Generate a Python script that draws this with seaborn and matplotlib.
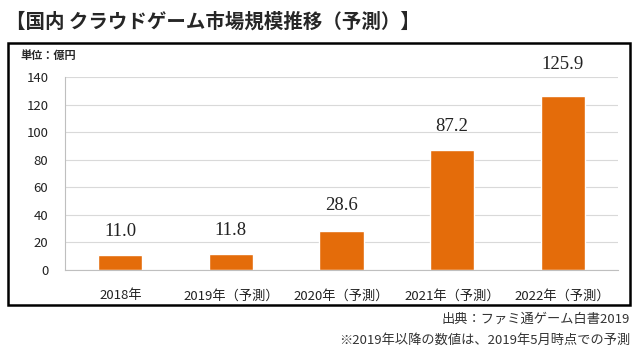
import matplotlib
matplotlib.use("Agg")
import matplotlib.pyplot as plt
import seaborn as sns
import numpy as np
import pandas as pd
from matplotlib.patches import Rectangle

sns.set_style("white")
plt.rcParams['font.family'] = ['Noto Sans CJK JP', 'DejaVu Sans']

# data
years = ['2018年', '2019年（予測）', '2020年（予測）', '2021年（予測）', '2022年（予測）']
market = [11.0, 11.8, 28.6, 87.2, 125.9]
label_offset = [16.5, 16.5, 18, 16.5, 23]  # points above bar top

df = pd.DataFrame({'year': years, 'value': market})

fig = plt.figure(figsize=(6.4, 3.59), dpi=100)
ax = fig.add_axes([0.1016, 0.2479, 0.8640, 0.5376])

sns.barplot(data=df, x='year', y='value', color='#E46C0A', saturation=1,
            width=0.4, ax=ax)

ax.set_ylim(0, 140)
ax.set_yticks(np.arange(0, 141, 20))
ax.set_xlim(-0.5, 4.5)
ax.set_xlabel('')
ax.set_ylabel('')
ax.yaxis.grid(True, color='#d9d9d9', linewidth=0.8)
ax.set_axisbelow(True)

for s in ['top', 'right']:
    ax.spines[s].set_visible(False)
for s in ['left', 'bottom']:
    ax.spines[s].set_color('#bfbfbf')
    ax.spines[s].set_linewidth(0.8)

ax.tick_params(axis='y', length=4, color='#bfbfbf', labelsize=9.5, labelcolor='#222222', pad=8)
ax.tick_params(axis='x', length=0, labelsize=9.5, labelcolor='#222222', pad=14)
ax.set_xticks(np.arange(-0.5, 5, 1), minor=True)
ax.tick_params(axis='x', which='minor', length=5, color='#bfbfbf')

# value labels
for i, v in enumerate(market):
    ax.annotate(f'{v:.1f}', (i, v), xytext=(0, label_offset[i]), textcoords='offset points',
                ha='center', va='center', fontsize=13.5, color='#222222',
                family=['Liberation Serif'], annotation_clip=False)

# frame box
fig.patches.append(Rectangle((8 / 640, 1 - 305 / 359), 622 / 640, 262 / 359,
                             transform=fig.transFigure, fill=False,
                             edgecolor='black', linewidth=1.8))

fig.text(6 / 640, 1 - 22 / 359, '【国内 クラウドゲーム市場規模推移（予測）】',
         fontsize=14, fontweight='bold', va='center', ha='left')
fig.text(20 / 640, 1 - 55 / 359, '単位：億円', fontsize=8, fontweight='bold',
         va='center', ha='left')
fig.text(630 / 640, 1 - 319 / 359, '出典：ファミ通ゲーム白書2019', fontsize=9.5,
         va='center', ha='right', color='#333333')
fig.text(630 / 640, 1 - 340 / 359, '※2019年以降の数値は、2019年5月時点での予測',
         fontsize=9.5, va='center', ha='right', color='#333333')

fig.savefig('out.png', dpi=100)
